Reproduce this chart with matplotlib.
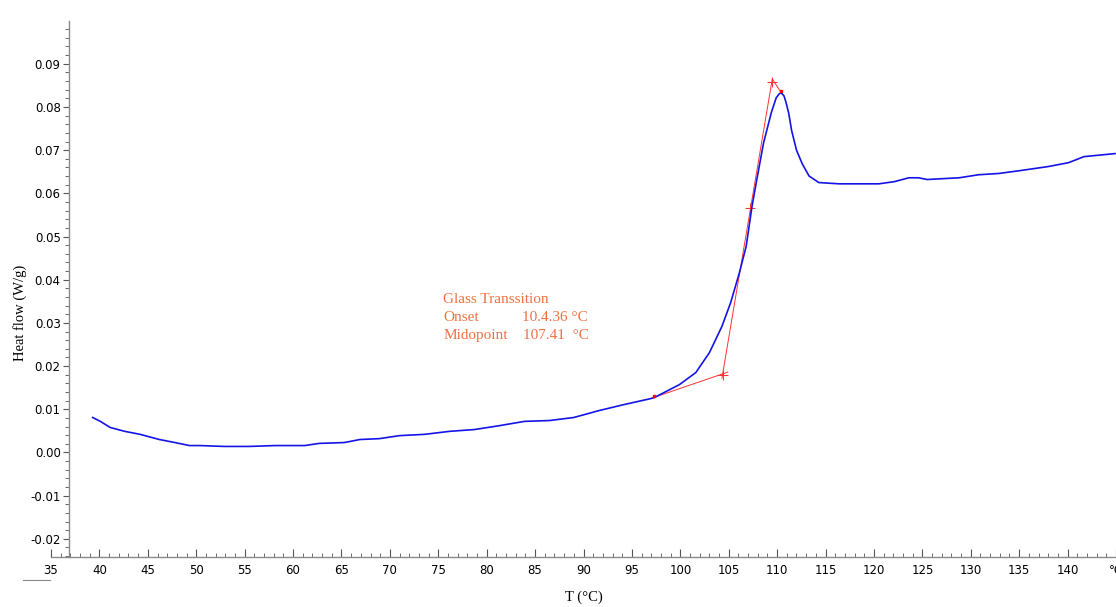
import numpy as np
import matplotlib
matplotlib.use("Agg")
import matplotlib.pyplot as plt
from matplotlib.ticker import MultipleLocator

# DSC curve
temp = [39.3, 40.1, 41.1, 42.6, 44.2, 46.2, 47.8, 49.3, 50.4, 52.9, 55.5, 58.1,
        61.2, 62.7, 65.3, 66.9, 68.9, 71.0, 73.6, 76.2, 78.7, 81.3, 83.9, 86.5,
        89.0, 91.6, 94.2, 96.8, 97.3, 99.9, 101.6, 103.0, 104.3, 105.2, 106.1,
        106.8, 107.4, 107.9, 108.6, 109.4, 109.9, 110.2, 110.4, 110.7, 110.9,
        111.2, 111.5, 112.0, 112.6, 113.3, 114.3, 116.4, 120.5, 122.1, 123.6,
        124.6, 125.5, 128.8, 130.8, 132.9, 134.9, 138.0, 140.1, 141.7, 144.9]
heat = [0.0081, 0.0072, 0.0058, 0.0049, 0.0042, 0.0030, 0.0023, 0.0016, 0.0016,
        0.0014, 0.0014, 0.0016, 0.0016, 0.0021, 0.0023, 0.0030, 0.0032, 0.0039,
        0.0042, 0.0049, 0.0053, 0.0062, 0.0072, 0.0074, 0.0081, 0.0097, 0.0111,
        0.0124, 0.0127, 0.0157, 0.0185, 0.0231, 0.0292, 0.0347, 0.0416, 0.0477,
        0.0569, 0.0632, 0.0717, 0.0787, 0.0821, 0.0830, 0.0833, 0.0826, 0.0812,
        0.0785, 0.0745, 0.0700, 0.0668, 0.0640, 0.0625, 0.0622, 0.0622, 0.0627,
        0.0636, 0.0636, 0.0632, 0.0636, 0.0643, 0.0646, 0.0652, 0.0662, 0.0671,
        0.0685, 0.0692]

# tangent construction (red)
base_x = [97.2, 104.9]
base_y = [0.0127, 0.0186]
steep_x = [104.3, 109.5]
steep_y = [0.0172, 0.0865]
peak_x = [109.5, 110.5]
peak_y = [0.0865, 0.0830]
cross_x = [104.4, 109.5, 107.2]
cross_y = [0.0180, 0.0858, 0.0565]

xticks = list(range(35, 150, 5))
xlabels = [str(t) for t in xticks[:-1]] + ["°C"]

fig = plt.figure(figsize=(11.16, 6.07), dpi=100)
ax = fig.add_axes([51 / 1116, 1 - 557 / 607, 1 - 51 / 1116, (557 - 21) / 607])

ax.plot(temp, heat, color="#1414e6", lw=1.2, zorder=3, solid_joinstyle="round")
ax.plot(base_x, base_y, color="#ff3030", lw=0.7)
ax.plot(steep_x, steep_y, color="#ff3030", lw=0.7)
ax.plot(peak_x, peak_y, color="#ff3030", lw=0.7)
ax.plot(cross_x, cross_y, ls="none", marker="+", ms=7, mew=0.7, color="#ff3030")
ax.plot([97.3, 110.4], [0.0130, 0.0836], ls="none", marker="s", ms=2, color="#ff0000", zorder=4)

ax.set_xlim(35, 145)
ax.set_ylim(-0.0242, 0.0999)

ax.spines["top"].set_visible(False)
ax.spines["right"].set_visible(False)
ax.spines["left"].set_position(("data", 36.86))
for s in ("left", "bottom"):
    ax.spines[s].set_color("#8a8a8a")
    ax.spines[s].set_linewidth(1.0)

ax.set_xticks(xticks)
ax.set_xticklabels(xlabels)
ax.xaxis.set_minor_locator(MultipleLocator(1))
ax.set_yticks(np.arange(-0.02, 0.095, 0.01))
ax.yaxis.set_minor_locator(MultipleLocator(0.002))
ax.yaxis.set_major_formatter(plt.FuncFormatter(lambda v, p: f"{v:.2f}"))

ax.tick_params(axis="x", which="major", direction="in", length=6, width=0.8,
               color="#555555", labelsize=8.5, pad=5)
ax.tick_params(axis="x", which="minor", direction="in", length=3, width=0.6, color="#555555")
ax.tick_params(axis="y", which="major", direction="out", length=4, width=0.8,
               color="#555555", labelsize=8.5, pad=2)
ax.tick_params(axis="y", which="minor", direction="out", length=3, width=0.6, color="#555555")

ax.set_ylabel("Heat flow (W/g)", family="Liberation Serif", fontsize=10.5)
ax.yaxis.set_label_coords(-0.0225, 0.455)
ax.set_xlabel("T (°C)", family="Liberation Serif", fontsize=10.5, labelpad=10)

note = "#f07040"
fs = 11
ax.text(75.5, 0.0354, "Glass Transsition", color=note, family="Liberation Serif",
        fontsize=fs, va="center")
ax.text(75.5, 0.0312, "Onset", color=note, family="Liberation Serif", fontsize=fs, va="center")
ax.text(83.6, 0.0312, "10.4.36 °C", color=note, family="Liberation Serif", fontsize=fs, va="center")
ax.text(75.5, 0.0270, "Midopoint", color=note, family="Liberation Serif", fontsize=fs, va="center")
ax.text(83.8, 0.0270, "107.41  °C", color=note, family="Liberation Serif", fontsize=fs, va="center")

fig.add_artist(plt.Line2D([23 / 1116, 50 / 1116], [1 - 580 / 607] * 2, color="#8a8a8a", lw=0.8))

fig.savefig("out.png", dpi=100)
